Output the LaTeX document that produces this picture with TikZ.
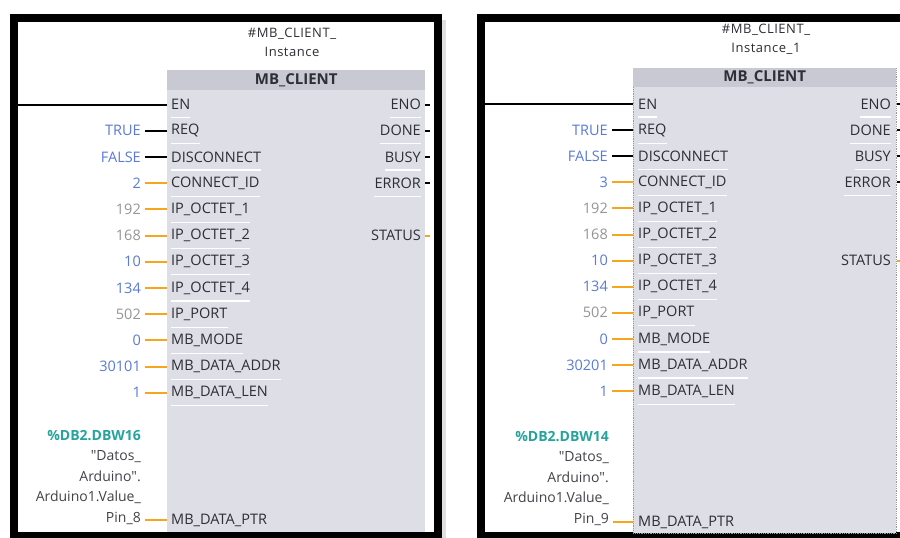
\documentclass[tikz,border=0pt]{standalone}
\usepackage{fontspec}
\setmainfont{Open Sans}
\usetikzlibrary{positioning,shadows}
\definecolor{blkfill}{HTML}{DEDEE7}
\definecolor{hdrfill}{HTML}{C9C9D3}
\definecolor{pintext}{HTML}{2E2E36}
\definecolor{valblue}{HTML}{5A7AD6}
\definecolor{valgray}{HTML}{959595}
\definecolor{tagteal}{HTML}{26A39C}
\definecolor{wireorange}{HTML}{F7A51C}

\begin{document}
\begin{tikzpicture}[
  x=1pt,y=-1pt,
  font=\fontsize{14.5}{16}\selectfont,
  frame/.style={draw=black,line width=8pt,fill=white,
    drop shadow={shadow xshift=8pt,shadow yshift=-2pt,opacity=.25}},
  blk/.style={fill=blkfill,anchor=north west,inner sep=0pt},
  hdr/.style={fill=hdrfill,anchor=north west,inner sep=0pt,text=pintext,font=\fontsize{15}{16}\selectfont\bfseries},
  inst/.style={align=center,text=pintext,inner sep=0pt,
    font=\fontsize{13}{19}\selectfont\addfontfeatures{LetterSpace=4}},
  pin/.style={anchor=west,inner sep=0pt,text=pintext},
  pout/.style={anchor=east,inner sep=0pt,text=pintext},
  val/.style={anchor=east,inner sep=0pt},
  ptr/.style={anchor=north east,align=right,inner sep=0pt,text=pintext!90,
    font=\fontsize{14}{20.5}\selectfont},
  wire/.style={line width=2pt},
  sep/.style={draw=white,line width=1.2pt}
]
\useasboundingbox (0,0) rectangle (900,538);

\draw[frame] (14,17.5) rectangle (438,536);
\node[blk,minimum width=258pt,minimum height=462pt] (blkL) at (167,70) {};
\node[hdr,minimum width=258pt,minimum height=20pt] (hdrL) at (blkL.north west) {MB\_CLIENT};
\node[inst] (instL) at (292,42) {\#MB\_CLIENT\_\\Instance};
\coordinate (railL) at (18,104.5);
\coordinate (edgeL) at (430,0);

\node[pin] (enL) at (171,104.5) {EN};
\draw[wire] (railL) -- (enL -| blkL.west);
\draw[sep] ([yshift=-13pt]enL.west) -- ([yshift=-13pt]enL.east);
\foreach \p/\v/\c/\w [count=\i] in {REQ/TRUE/valblue/black,DISCONNECT/FALSE/valblue/black,
    CONNECT\_ID/2/valblue/wireorange,IP\_OCTET\_1/192/valgray/wireorange,IP\_OCTET\_2/168/valgray/wireorange,
    IP\_OCTET\_3/10/valblue/wireorange,IP\_OCTET\_4/134/valblue/wireorange,IP\_PORT/502/valgray/wireorange,
    MB\_MODE/0/valblue/wireorange,MB\_DATA\_ADDR/30101/valblue/wireorange,MB\_DATA\_LEN/1/valblue/wireorange}{
  \node[pin] (pL\i) at (171,{104.5+26.2*\i}) {\p};
  \node[val,text=\c] (vL\i) at (141,{104.5+26.2*\i}) {\v};
  \draw[wire,draw=\w] ([xshift=4pt]vL\i.east) -- (vL\i -| blkL.west);
  \draw[sep] ([yshift=-13pt]pL\i.west) -- ([yshift=-13pt]pL\i.east);
}
\foreach \p/\r/\w in {ENO/0/black,DONE/1/black,BUSY/2/black,ERROR/3/black,STATUS/5/wireorange}{
  \node[pout] (oL\r) at (421,{104.5+26.2*\r}) {\p};
  \draw[wire,draw=\w] (oL\r -| blkL.east) -- (oL\r -| edgeL);
  \ifnum\r<4 \draw[sep] ([yshift=-13pt]oL\r.west) -- ([yshift=-13pt]oL\r.east); \fi
}
\node[pin] (ptrpL) at (171,520) {MB\_DATA\_PTR};
\node[ptr] (ptrL) at (141,430) {{\bfseries\color{tagteal}\%DB2.DBW16}\\\textquotedbl Datos\_\\Arduino\textquotedbl.\\Arduino1.Value\_\\Pin\_8};
\draw[wire,draw=wireorange] ([xshift=4pt]ptrpL -| ptrL.east) -- (ptrpL -| blkL.west);

\draw[frame] (481,17.5) rectangle (915,536);
\node[blk,minimum width=263pt,minimum height=465pt,draw=gray!80,line width=.8pt,densely dotted] (blkR) at (633,68) {};
\node[hdr,minimum width=263pt,minimum height=19pt] (hdrR) at (blkR.north west) {MB\_CLIENT};
\node[inst] (instR) at (766,39.5) {\#MB\_CLIENT\_\\Instance\_1};
\coordinate (railR) at (485,104);
\coordinate (edgeR) at (904,0);

\node[pin] (enR) at (638,104) {EN};
\draw[wire] (railR) -- (enR -| blkR.west);
\draw[sep] ([yshift=-13pt]enR.west) -- ([yshift=-13pt]enR.east);
\foreach \p/\v/\c/\w [count=\i] in {REQ/TRUE/valblue/black,DISCONNECT/FALSE/valblue/black,
    CONNECT\_ID/3/valblue/wireorange,IP\_OCTET\_1/192/valgray/wireorange,IP\_OCTET\_2/168/valgray/wireorange,
    IP\_OCTET\_3/10/valblue/wireorange,IP\_OCTET\_4/134/valblue/wireorange,IP\_PORT/502/valgray/wireorange,
    MB\_MODE/0/valblue/wireorange,MB\_DATA\_ADDR/30201/valblue/wireorange,MB\_DATA\_LEN/1/valblue/wireorange}{
  \node[pin] (pR\i) at (638,{104+26.1*\i}) {\p};
  \node[val,text=\c] (vR\i) at (608,{104+26.1*\i}) {\v};
  \draw[wire,draw=\w] ([xshift=4pt]vR\i.east) -- (vR\i -| blkR.west);
  \draw[sep] ([yshift=-13pt]pR\i.west) -- ([yshift=-13pt]pR\i.east);
}
\foreach \p/\r/\w in {ENO/0/black,DONE/1/black,BUSY/2/black,ERROR/3/black,STATUS/6/wireorange}{
  \node[pout] (oR\r) at (891,{104+26.1*\r}) {\p};
  \draw[wire,draw=\w] (oR\r -| blkR.east) -- (oR\r -| edgeR);
  \ifnum\r<4 \draw[sep] ([yshift=-13pt]oR\r.west) -- ([yshift=-13pt]oR\r.east); \fi
}
\node[pin] (ptrpR) at (638,522) {MB\_DATA\_PTR};
\node[ptr] (ptrR) at (609,431) {{\bfseries\color{tagteal}\%DB2.DBW14}\\\textquotedbl Datos\_\\Arduino\textquotedbl.\\Arduino1.Value\_\\Pin\_9};
\draw[wire,draw=wireorange] ([xshift=4pt]ptrpR -| ptrR.east) -- (ptrpR -| blkR.west);
\end{tikzpicture}
\end{document}
